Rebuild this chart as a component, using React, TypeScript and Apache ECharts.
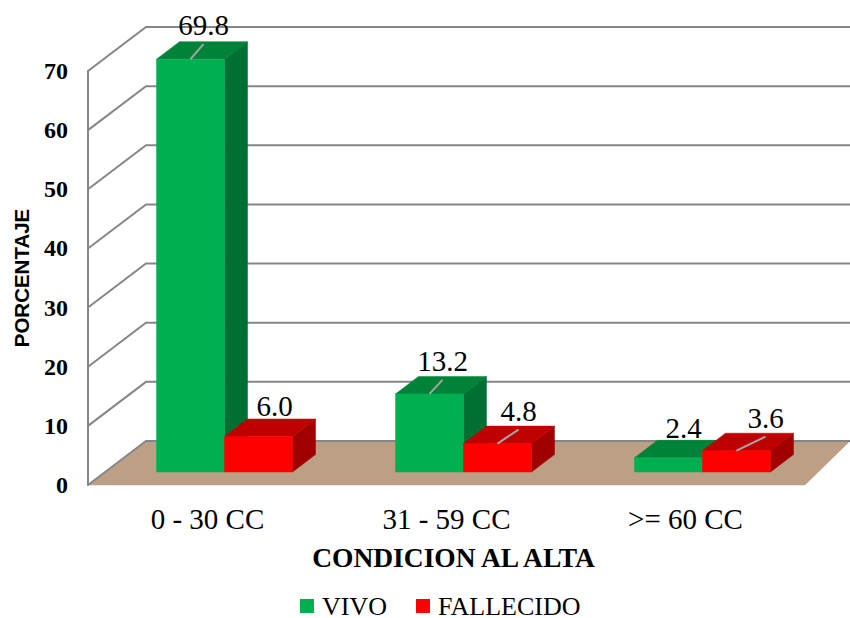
import React, { useEffect, useRef } from "react";
import * as echarts from "echarts";

const categories = ["0 - 30 CC", "31 - 59 CC", ">= 60 CC"];
const vivo = [69.8, 13.2, 2.4];
const fallecido = [6.0, 4.8, 3.6];
const yTicks = [0, 10, 20, 30, 40, 50, 60, 70];

const SERIF = '"Liberation Serif", "Times New Roman", serif';
const SANS = '"Liberation Sans", Arial, sans-serif';
const DEPTH = { x: 58, y: -44 };
const BAR_DEPTH = { x: 23, y: -17.5 };
const FLOOR_LIFT = 13;
const BAR_WIDTH = 68;
const GROUP_SHIFT = 17;

// Palette of each box: front, top and side faces.
const GREEN = { front: "#00B050", top: "#008238", side: "#006F32" };
const RED = { front: "#FF0000", top: "#BF0000", side: "#A00000" };
const GRID_GRAY = "#868686";

// Where each value label sits, relative to the middle of its box's upper front edge.
const vivoLabelOffsets = [
  { dx: 13, dy: -15, leader: true },
  { dx: 13, dy: -14, leader: true },
  { dx: 15, dy: -11, leader: false },
];
const fallecidoLabelOffsets = [
  { dx: 16, dy: -12, leader: false },
  { dx: 21, dy: -14, leader: true },
  { dx: 29, dy: -14, leader: true },
];

function poly(points: number[][], fill: string, extra: any = {}) {
  return { type: "polygon", shape: { points }, style: { fill, stroke: fill, lineWidth: 0.5 }, ...extra };
}

function boxFrontEdge(api: any, side: -1 | 1) {
  const cat = api.value(0);
  const val = api.value(1);
  const base = api.coord([cat, 0]);
  const top = api.coord([cat, val]);
  const center = base[0] + GROUP_SHIFT;
  const x0 = side < 0 ? center - BAR_WIDTH : center;
  return { x0, x1: x0 + BAR_WIDTH, y0: base[1] - FLOOR_LIFT, y1: top[1] - FLOOR_LIFT };
}

// A box in oblique projection: front, top and right-hand faces.
function boxRenderer(side: -1 | 1, colors: typeof GREEN) {
  return (_params: any, api: any) => {
    const { x0, x1, y0, y1 } = boxFrontEdge(api, side);
    const dx = BAR_DEPTH.x;
    const dy = BAR_DEPTH.y;
    return {
      type: "group",
      children: [
        poly([[x1, y0], [x1 + dx, y0 + dy], [x1 + dx, y1 + dy], [x1, y1]], colors.side),
        poly([[x0, y1], [x1, y1], [x1 + dx, y1 + dy], [x0 + dx, y1 + dy]], colors.top),
        poly([[x0, y0], [x1, y0], [x1, y1], [x0, y1]], colors.front),
      ],
    };
  };
}

// Value text above a box, tied to it by a thin leader where the text sits away from it.
function labelRenderer(side: -1 | 1, offsets: typeof vivoLabelOffsets) {
  return (params: any, api: any) => {
    const { x0, y1 } = boxFrontEdge(api, side);
    const o = offsets[params.dataIndex];
    const sx = x0 + BAR_WIDTH / 2;
    const ex = sx + o.dx;
    const ey = y1 + o.dy;
    const children: any[] = [];
    if (o.leader) {
      children.push({
        type: "line",
        shape: { x1: sx, y1: y1, x2: ex, y2: ey },
        style: { stroke: "#A6A6A6", lineWidth: 2 },
      });
    }
    children.push({
      type: "text",
      style: {
        x: ex,
        y: ey - 4.5,
        text: api.value(1).toFixed(1),
        font: `29px ${SERIF}`,
        fill: "#000000",
        align: "center",
        verticalAlign: "bottom",
      },
    });
    return { type: "group", children };
  };
}

// Floor and back walls: one diagonal plus one long horizontal per tick.
function wallRenderer(params: any, api: any) {
  const tick = api.value(0);
  const [, y] = api.coord([0, tick]);
  const x = params.coordSys.x;
  const w = params.coordSys.width;
  const children: any[] = [];
  if (tick === 0) {
    children.push(
      poly([[x, y], [x + DEPTH.x, y + DEPTH.y], [850, y + DEPTH.y], [x + w, y]], "#BD9F86")
    );
  }
  children.push({
    type: "polyline",
    shape: { points: [[x, y], [x + DEPTH.x, y + DEPTH.y], [850, y + DEPTH.y]] },
    style: { stroke: GRID_GRAY, lineWidth: 2, fill: "none" },
  });
  return { type: "group", children };
}

const pairs = (values: number[]) => values.map((v, i) => [i, v]);

export default function App() {
  const ref = useRef<HTMLDivElement>(null);

  useEffect(() => {
    document.body.style.margin = "0";
    const chart = echarts.init(ref.current!, undefined, { renderer: "svg" });
    chart.setOption({
      animation: false,
      backgroundColor: "#FFFFFF",
      grid: { left: 88, top: 71, width: 717, height: 414, containLabel: false, outerBoundsMode: "none" },
      legend: {
        left: 295,
        top: 588,
        data: ["VIVO", "FALLECIDO"],
        icon: "rect",
        itemWidth: 14,
        itemHeight: 14,
        itemGap: 29,
        textStyle: { fontFamily: SERIF, fontSize: 26, lineHeight: 20, color: "#000000", padding: [0, 0, 0, 3] },
      },
      xAxis: {
        type: "category",
        data: categories,
        name: "CONDICION AL ALTA",
        nameLocation: "middle",
        nameGap: 58,
        nameTextStyle: { fontFamily: SERIF, fontSize: 27.5, fontWeight: "bold", color: "#000000", padding: [0, 0, 0, 14] },
        axisLine: { show: false },
        axisTick: { show: false },
        axisLabel: { fontFamily: SERIF, fontSize: 29, color: "#000000", margin: 19 },
      },
      yAxis: {
        type: "value",
        min: 0,
        max: 70,
        interval: 10,
        name: "PORCENTAJE",
        nameLocation: "middle",
        nameGap: 56,
        nameTextStyle: { fontFamily: SANS, fontSize: 20.5, fontWeight: "bold", color: "#000000" },
        axisLine: { show: true, lineStyle: { color: GRID_GRAY, width: 2 } },
        axisTick: { show: false },
        splitLine: { show: false },
        axisLabel: { fontFamily: SERIF, fontSize: 24, fontWeight: "bold", color: "#000000", margin: 20 },
      },
      series: [
        {
          type: "custom",
          name: "walls",
          z: 1,
          silent: true,
          clip: false,
          coordinateSystem: "cartesian2d",
          encode: { y: 0 },
          data: yTicks.map((t) => [t]),
          renderItem: wallRenderer,
        },
        {
          type: "custom",
          name: "VIVO",
          z: 2,
          clip: false,
          itemStyle: { color: GREEN.front },
          encode: { x: 0, y: 1 },
          data: pairs(vivo),
          renderItem: boxRenderer(-1, GREEN),
        },
        {
          type: "custom",
          name: "FALLECIDO",
          z: 3,
          clip: false,
          itemStyle: { color: RED.front },
          encode: { x: 0, y: 1 },
          data: pairs(fallecido),
          renderItem: boxRenderer(1, RED),
        },
        {
          type: "custom",
          name: "vivoLabels",
          z: 4,
          clip: false,
          silent: true,
          encode: { x: 0, y: 1 },
          data: pairs(vivo),
          renderItem: labelRenderer(-1, vivoLabelOffsets),
        },
        {
          type: "custom",
          name: "fallecidoLabels",
          z: 4,
          clip: false,
          silent: true,
          encode: { x: 0, y: 1 },
          data: pairs(fallecido),
          renderItem: labelRenderer(1, fallecidoLabelOffsets),
        },
      ],
    });
    return () => chart.dispose();
  }, []);

  return <div ref={ref} style={{ width: 850, height: 618 }} />;
}
